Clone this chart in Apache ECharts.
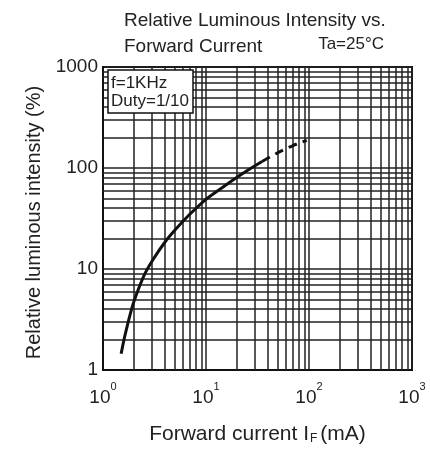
<!DOCTYPE html>
<html><head><meta charset="utf-8">
<script src="https://cdn.jsdelivr.net/npm/echarts@6/dist/echarts.min.js"></script>
<style>html,body{margin:0;padding:0;background:#fff}#c{width:430px;height:450px}</style>
</head><body><div id="c"></div>
<script>
// data
const solidX = [1.5, 1.6, 1.7, 1.8, 2, 2.5, 3, 4, 5, 7, 10, 15, 20, 25, 35];
const solidY = [1.45, 2.0, 2.6, 3.3, 4.8, 8.6, 12, 18.5, 24.3, 35, 49, 66, 81, 94, 116];
const dashX = [35, 50, 70, 95];
const dashY = [116, 142, 167, 188];
const xTickExps = ['0', '1', '2', '3'];
const yTickLabels = ['1', '10', '100', '1000'];
const minorMult = [2, 3, 4, 5, 6, 7, 8, 9];
const decades = [1, 10, 100];

const F = 'Liberation Sans, Arial, sans-serif';
const minorX = [], minorY = [];
decades.forEach(d => minorMult.forEach(m => { minorX.push({xAxis: d * m}); minorY.push({yAxis: d * m}); }));

const chart = echarts.init(document.getElementById('c'), null, {renderer: 'canvas'});
chart.setOption({
  animation: false,
  backgroundColor: '#fff',
  title: [
    {text: 'Relative Luminous Intensity vs.\nForward Current', left: 119, top: 3,
     textStyle: {fontFamily: F, fontSize: 19, fontWeight: 'normal', color: '#222', lineHeight: 26}},
    {text: 'Ta=25°C', right: 41, top: 31,
     textStyle: {fontFamily: F, fontSize: 17, fontWeight: 'normal', color: '#222'}},
    {text: 'f=1KHz\nDuty=1/10', left: 108, top: 70, padding: [4, 4, 3, 3],
     backgroundColor: '#fff', borderColor: '#111', borderWidth: 1.5,
     textStyle: {fontFamily: F, fontSize: 17, fontWeight: 'normal', color: '#222', lineHeight: 18}}
  ],
  grid: {left: 103, top: 67, width: 309, height: 308, show: true, borderColor: '#111', borderWidth: 2, backgroundColor: 'transparent'},
  xAxis: {
    type: 'log', logBase: 10, min: 1, max: 1000,
    axisLine: {show: true, lineStyle: {color: '#111', width: 2}},
    axisTick: {show: false},
    splitLine: {show: true, lineStyle: {color: '#222', width: 1.5}},
    axisLabel: {
      margin: 11,
      formatter: v => {
        const e = Math.round(Math.log10(v));
        return '{b|10}{s|' + xTickExps[e] + '}';
      },
      rich: {
        b: {fontFamily: F, fontSize: 19, color: '#222', verticalAlign: 'bottom', lineHeight: 26},
        s: {fontFamily: F, fontSize: 11, color: '#222', verticalAlign: 'top', lineHeight: 26}
      }
    },
    name: '{a|Forward current I}{s|F}{a|(mA)}',
    nameLocation: 'middle', nameGap: 54,
    nameTextStyle: {
      rich: {
        a: {fontFamily: F, fontSize: 21, color: '#222'},
        s: {fontFamily: F, fontSize: 12, color: '#222', verticalAlign: 'bottom', padding: [9, 3, 0, 1]}
      }
    }
  },
  yAxis: {
    type: 'log', logBase: 10, min: 1, max: 1000,
    axisLine: {show: true, lineStyle: {color: '#111', width: 2}},
    axisTick: {show: false},
    splitLine: {show: true, lineStyle: {color: '#222', width: 1.5}},
    axisLabel: {
      margin: 5,
      fontFamily: F, fontSize: 19, color: '#222',
      formatter: v => yTickLabels[Math.round(Math.log10(v))]
    },
    name: 'Relative luminous intensity (%)',
    nameLocation: 'middle', nameGap: 57,
    nameTextStyle: {fontFamily: F, fontSize: 20, color: '#222', padding: [0, 8, 0, 0]}
  },
  series: [
    {
      type: 'line', data: [], silent: true, z: 1,
      markLine: {
        silent: true, symbol: ['none', 'none'], label: {show: false},
        lineStyle: {color: '#222', width: 1.5, type: 'solid'},
        emphasis: {disabled: true},
        data: minorX.concat(minorY)
      }
    },
    {
      type: 'line', showSymbol: false, smooth: 0.3, z: 5,
      lineStyle: {color: '#111', width: 3},
      data: solidX.map((x, i) => [x, solidY[i]])
    },
    {
      type: 'line', showSymbol: false, smooth: 0.3, z: 5,
      lineStyle: {color: '#111', width: 3, type: [9, 6]},
      data: dashX.map((x, i) => [x, dashY[i]])
    }
  ]
});
</script></body></html>
